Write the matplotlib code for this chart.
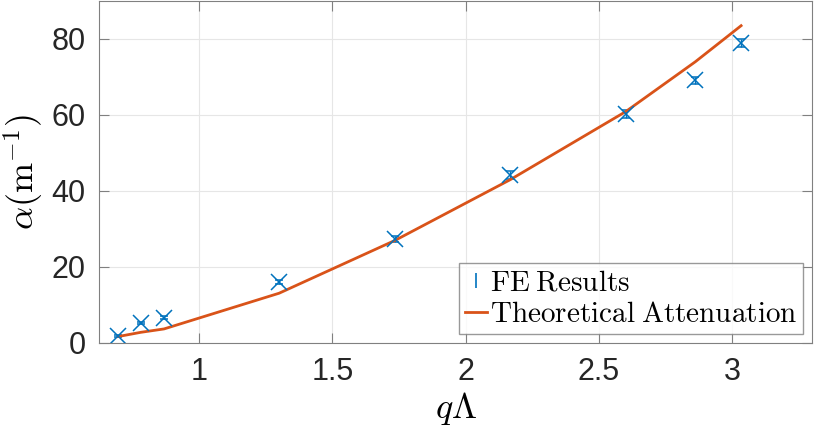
import matplotlib.pyplot as plt
from matplotlib.legend_handler import HandlerErrorbar
import numpy as np

plt.rcParams['mathtext.fontset'] = 'cm'
plt.rcParams['font.family'] = ['Liberation Sans', 'DejaVu Sans']

# attenuation vs normalised wavenumber
q_lambda = [0.696, 0.780, 0.868, 1.300, 1.735, 2.168, 2.601, 2.862, 3.034]
alpha_fe = [1.8, 5.2, 6.7, 16.0, 27.4, 44.2, 60.2, 69.1, 79.0]
alpha_err = [0.3, 0.3, 0.3, 0.5, 0.8, 1.0, 1.0, 1.0, 1.0]
alpha_theory = [1.7, 2.8, 3.7, 13.1, 27.0, 43.0, 60.9, 74.0, 83.5]

BLUE = '#0072BD'
ORANGE = '#D95319'
GREY = '#808080'

fig = plt.figure(figsize=(8.14, 4.34), dpi=100)
ax = fig.add_axes([0.122, 0.2097, 0.8755, 0.788])

ax.errorbar(q_lambda, alpha_fe, yerr=alpha_err, fmt='x', color=BLUE,
            markersize=11, markeredgewidth=1.1, elinewidth=1.0, capsize=3)
ln, = ax.plot(q_lambda, alpha_theory, '-', color=ORANGE, lw=2)

# legend entry for FE results shows only the bar, no marker
fe_proxy = ax.errorbar([], [], yerr=[], fmt='none', color=BLUE,
                       elinewidth=1.2, capsize=2)

ax.set_xlim(0.625, 3.3)
ax.set_ylim(0, 90)
ax.set_xticks([1, 1.5, 2, 2.5, 3])
ax.set_xticklabels(['1', '1.5', '2', '2.5', '3'])
ax.set_yticks([0, 20, 40, 60, 80])

ax.grid(True, color='#e6e6e6', lw=0.8)
ax.set_axisbelow(True)
for s in ax.spines.values():
  s.set_color(GREY)
ax.tick_params(direction='in', length=7, color=GREY, labelsize=22,
               labelcolor='#262626', pad=10, top=True, right=True)

ax.set_xlabel(r'$q\Lambda$', fontsize=26, labelpad=2)
ax.set_ylabel(r'$\alpha(\mathrm{m}^{-1})$', fontsize=26, labelpad=4)

leg = ax.legend([fe_proxy, ln],
                [r'$\mathrm{FE\;Results}$', r'$\mathrm{Theoretical\;Attenuation}$'],
                handler_map={type(fe_proxy): HandlerErrorbar(yerr_size=0.25)},
                loc='lower right', fontsize=21, frameon=True, fancybox=False,
                edgecolor=GREY, handlelength=0.75, handletextpad=0.1,
                borderpad=0.2, labelspacing=0.12, borderaxespad=0.3)
leg.get_frame().set_linewidth(1.0)

fig.savefig('out.png', dpi=100)
